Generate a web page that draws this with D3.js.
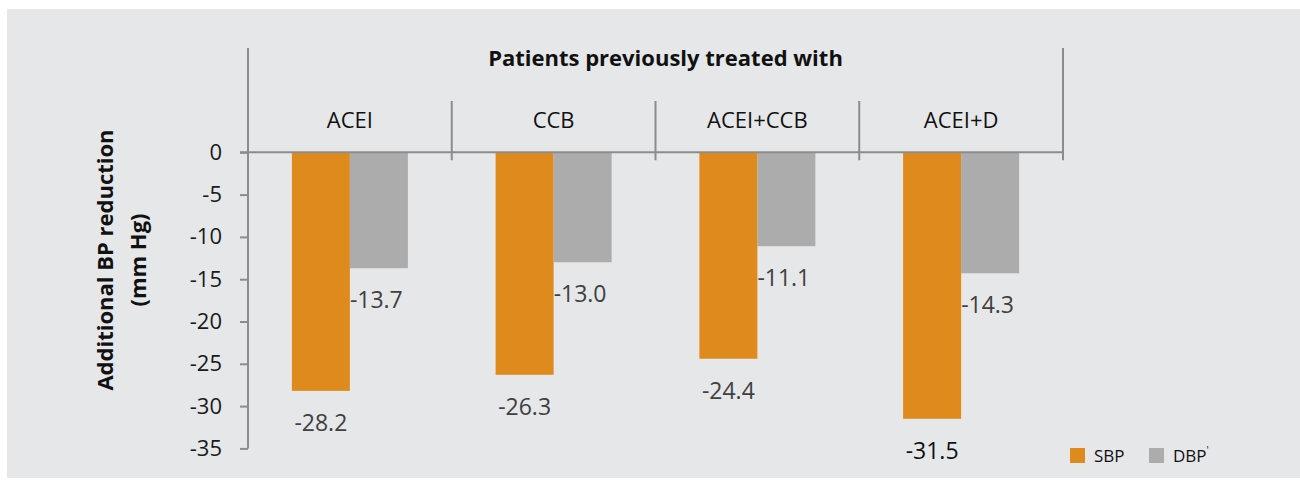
<!DOCTYPE html>
<html>
<head>
<meta charset="utf-8">
<script src="https://cdn.jsdelivr.net/npm/d3@7"></script>
<style>
  body { margin: 0; background: #ffffff; }
  svg { display: block; font-family: "Open Sans", sans-serif; }
</style>
</head>
<body>
<div id="chart"></div>
<script>
const categories = ["ACEI", "CCB", "ACEI+CCB", "ACEI+D"];
const series = ["SBP", "DBP"];
const sbpValues = [-28.2, -26.3, -24.4, -31.5];
const dbpValues = [-13.7, -13.0, -11.1, -14.3];
const yTicks = [0, -5, -10, -15, -20, -25, -30, -35];

const width = 1300;
const height = 484;
const colors = { SBP: "#df8a1c", DBP: "#acacac" };
const lineColor = "#8c8c8c";

const svg = d3.select("#chart")
    .append("svg")
    .attr("width", width)
    .attr("height", height);

// panel background
svg.append("rect")
    .attr("x", 7)
    .attr("y", 9)
    .attr("width", width - 7)
    .attr("height", 469)
    .attr("fill", "#e6e7e9");

const scaleY = d3.scaleLinear()
    .domain([0, -35])
    .range([152.3, 448.4]);

const scaleX = d3.scaleBand()
    .domain(categories)
    .range([248, 1063])
    .padding(0);

const barWidth = 58;
const scaleSeries = d3.scaleBand()
    .domain(series)
    .range([scaleX.bandwidth() / 2 - barWidth, scaleX.bandwidth() / 2 + barWidth]);

const data = [];
categories.forEach((c, i) => {
    data.push({ cat: c, key: "SBP", value: sbpValues[i] });
    data.push({ cat: c, key: "DBP", value: dbpValues[i] });
});

// bars
svg.append("g")
    .selectAll("rect")
    .data(data)
    .enter()
    .append("rect")
    .attr("x", d => scaleX(d.cat) + scaleSeries(d.key))
    .attr("y", scaleY(0))
    .attr("width", scaleSeries.bandwidth())
    .attr("height", d => scaleY(d.value) - scaleY(0))
    .attr("fill", d => colors[d.key]);

// y axis
const yAxis = d3.axisLeft(scaleY)
    .tickValues(yTicks)
    .tickSize(8)
    .tickPadding(18)
    .tickFormat(d => d);

const groupAxisY = svg.append("g")
    .attr("transform", `translate(${scaleX.range()[0]}, 0)`)
    .call(yAxis);
groupAxisY.select(".domain").remove();
groupAxisY.selectAll("line").attr("stroke", lineColor).attr("stroke-width", 2);
groupAxisY.selectAll("text")
    .attr("fill", "#1a1a1a")
    .style("font-size", "22px")
    .style("font-family", "'Open Sans', sans-serif");

const frame = svg.append("g")
    .attr("stroke", lineColor)
    .attr("stroke-width", 2)
    .attr("fill", "none");

// left vertical axis line
frame.append("line")
    .attr("x1", scaleX.range()[0]).attr("x2", scaleX.range()[0])
    .attr("y1", 48).attr("y2", scaleY(-35));

// right outer line
frame.append("line")
    .attr("x1", scaleX.range()[1]).attr("x2", scaleX.range()[1])
    .attr("y1", 48).attr("y2", scaleY(0) + 8);

// category dividers
categories.slice(1).forEach(c => {
    frame.append("line")
        .attr("x1", scaleX(c)).attr("x2", scaleX(c))
        .attr("y1", 101).attr("y2", scaleY(0) + 8);
});

// zero line
frame.append("line")
    .attr("x1", scaleX.range()[0] - 8).attr("x2", scaleX.range()[1])
    .attr("y1", scaleY(0)).attr("y2", scaleY(0));

// header title
svg.append("text")
    .attr("x", (scaleX.range()[0] + scaleX.range()[1]) / 2 + 10)
    .attr("y", 66)
    .attr("text-anchor", "middle")
    .attr("font-weight", "bold")
    .attr("font-size", 22)
    .attr("fill", "#111")
    .text("Patients previously treated with");

// category labels
svg.append("g")
    .selectAll("text")
    .data(categories)
    .enter()
    .append("text")
    .attr("x", d => scaleX(d) + scaleX.bandwidth() / 2)
    .attr("y", 128)
    .attr("text-anchor", "middle")
    .attr("font-size", 22)
    .attr("fill", "#111")
    .text(d => d);

// value labels
svg.append("g")
    .selectAll("text")
    .data(data)
    .enter()
    .append("text")
    .attr("x", d => d.key === "SBP"
        ? scaleX(d.cat) + scaleSeries(d.key) + scaleSeries.bandwidth() / 2
        : scaleX(d.cat) + scaleSeries(d.key))
    .attr("y", d => scaleY(d.value) + 40)
    .attr("text-anchor", d => d.key === "SBP" ? "middle" : "start")
    .attr("font-size", 23)
    .attr("fill", d => d.value === -31.5 ? "#111" : "#404040")
    .text(d => d.value.toFixed(1));

// y axis title
const yTitle = svg.append("text")
    .attr("transform", "translate(105, 260) rotate(-90)")
    .attr("text-anchor", "middle")
    .attr("font-weight", "bold")
    .attr("font-size", 22)
    .attr("fill", "#111");
yTitle.append("tspan").attr("x", 0).attr("dy", 8).text("Additional BP reduction");
yTitle.append("tspan").attr("x", 0).attr("dy", 33).text("(mm Hg)");

// legend
const legend = svg.append("g").attr("class", "legend");
const legendX = [1070, 1149];
series.forEach((s, i) => {
    const g = legend.append("g").attr("transform", `translate(${legendX[i]}, 448)`);
    g.append("rect")
        .attr("width", 15)
        .attr("height", 15)
        .attr("fill", colors[s]);
    const t = g.append("text")
        .attr("x", 24)
        .attr("y", 14)
        .attr("font-size", 17)
        .attr("fill", "#111")
        .text(s);
    if (s === "DBP") {
        t.append("tspan").attr("dy", -8).attr("font-size", 10).text("'");
    }
});
</script>
</body>
</html>
